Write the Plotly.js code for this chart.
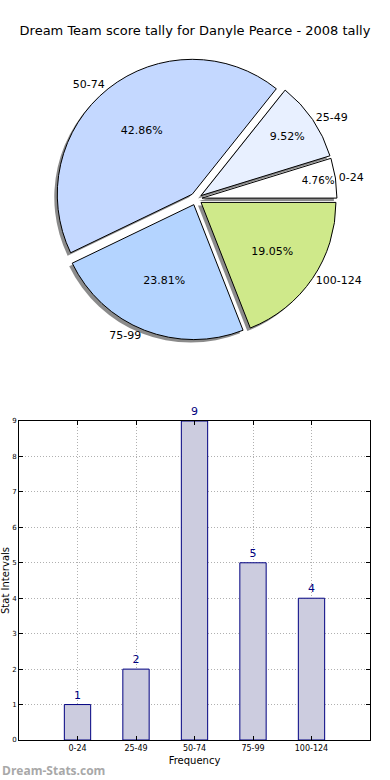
<!DOCTYPE html>
<html>
<head>
<meta charset="utf-8">
<script src="https://cdn.plot.ly/plotly-3.0.1.min.js"></script>
<style>html,body{margin:0;padding:0;background:#fff;}#chart{width:390px;height:780px;}</style>
</head>
<body>
<div id="chart"></div>
<script>
const categories = ["0-24", "25-49", "50-74", "75-99", "100-124"];
const counts = [1, 2, 9, 5, 4];
const sliceColors = ["#ffffff", "#e8f0ff", "#c4d8ff", "#b4d4ff", "#cfe98a"];
const titleText = "Dream Team score tally for Danyle Pearce - 2008 tally";

const FONT = "DejaVu Sans, sans-serif";
const pull = categories.map(() => 0.045);
const total = counts.reduce((a, b) => a + b, 0);
// first slice starts at 3 o'clock and runs counterclockwise (Plotly offsets by first slice)
const rotation = 90 - 360 * counts[0] / total;

// pie geometry (paper fractions)
const cx = 196/390, cy = (780-199)/780;
const half = 141;
const pieDomain = (dx, dy) => ({
  x: [cx - half/390 + dx/390, cx + half/390 + dx/390],
  y: [cy - half/780 - dy/780, cy + half/780 - dy/780]
});

const common = {
  type: "pie", labels: categories, values: counts, sort: false,
  direction: "counterclockwise", rotation: rotation, pull: pull,
  hoverinfo: "none", showlegend: false
};

const shadow = Object.assign({}, common, {
  domain: pieDomain(-3, 3),
  marker: {colors: categories.map(() => "rgba(110,110,110,0.8)"), line: {width: 0}},
  textinfo: "none"
});
const main = Object.assign({}, common, {
  domain: pieDomain(0, 0),
  marker: {colors: sliceColors, line: {color: "#000000", width: 1}},
  textinfo: "none"
});
const percentTrace = Object.assign({}, common, {
  domain: pieDomain(0, 0),
  hole: 0.2,
  marker: {colors: categories.map(() => "rgba(0,0,0,0)"), line: {width: 0}},
  texttemplate: "%{percent:.2%}",
  textposition: "inside",
  insidetextorientation: "horizontal",
  textfont: {family: FONT, size: 11, color: "#000000"}
});
const labelsTrace = Object.assign({}, common, {
  domain: pieDomain(0, 0),
  marker: {colors: categories.map(() => "rgba(0,0,0,0)"), line: {width: 0}},
  textinfo: "label",
  textposition: "outside",
  outsidetextfont: {family: FONT, size: 11, color: "#000000"},
  automargin: false
});

const bars = {
  type: "bar", x: categories, y: counts, width: 0.45,
  xaxis: "x", yaxis: "y",
  marker: {color: "#ccccdf", line: {color: "#000080", width: 1}},
  text: counts.map(String), textposition: "outside",
  textfont: {family: FONT, size: 11, color: "#000080"},
  cliponaxis: false, hoverinfo: "none", showlegend: false
};

const layout = {
  width: 390, height: 780,
  margin: {l: 0, r: 0, t: 0, b: 0},
  paper_bgcolor: "#ffffff", plot_bgcolor: "#ffffff",
  font: {family: FONT, color: "#000000"},
  title: {text: titleText, x: 0.5, xanchor: "center", y: 1 - 30/780, yanchor: "middle",
          font: {family: FONT, size: 13, color: "#000000"}},
  xaxis: {
    domain: [19/390, 370/390], range: [-1, 5], type: "category",
    showline: true, linecolor: "#000", linewidth: 1, mirror: "allticks",
    ticks: "inside", ticklen: 4, tickcolor: "#000",
    showgrid: true, gridcolor: "#b0b0b0", griddash: "1px,2px", gridwidth: 1,
    tickfont: {family: FONT, size: 8, color: "#000"},
    title: {text: "Frequency", font: {family: FONT, size: 10, color: "#000"}, standoff: 5},
    zeroline: false, fixedrange: true
  },
  yaxis: {
    domain: [40/780, 359/780], range: [0, 9], dtick: 1,
    showline: true, linecolor: "#000", linewidth: 1, mirror: "allticks",
    ticks: "inside", ticklen: 4, tickcolor: "#000",
    showgrid: true, gridcolor: "#b0b0b0", griddash: "1px,2px", gridwidth: 1,
    tickfont: {family: FONT, size: 7, color: "#000"},
    title: {text: "Stat Intervals", font: {family: FONT, size: 10, color: "#000"}, standoff: 6},
    zeroline: false, fixedrange: true
  },
  annotations: [{
    text: "<b>Dream-Stats.com</b>", xref: "paper", yref: "paper",
    x: 0, y: 10/780, xanchor: "left", yanchor: "middle", showarrow: false,
    font: {family: "Open Sans, DejaVu Sans, sans-serif", size: 12, color: "#a8a8a8"}
  }]
};

Plotly.newPlot("chart", [shadow, main, percentTrace, labelsTrace, bars], layout, {staticPlot: true, displayModeBar: false});
</script>
</body>
</html>
